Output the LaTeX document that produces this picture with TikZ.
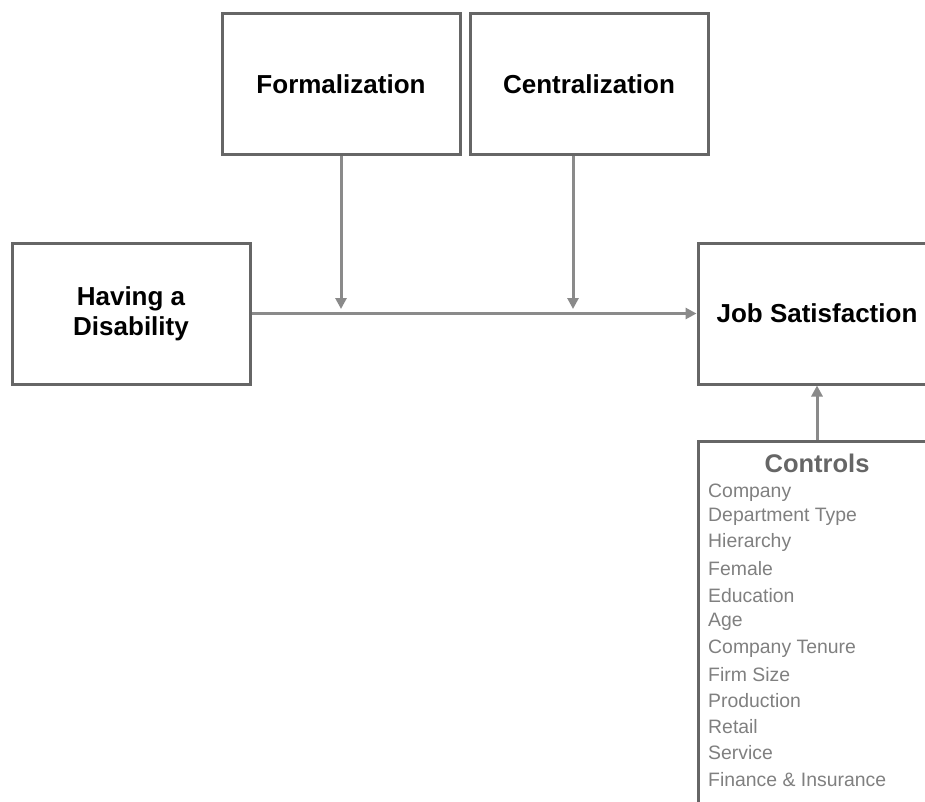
\documentclass[tikz,border=0pt]{standalone}
\usepackage{fontspec}
\setmainfont{Liberation Sans}
\usetikzlibrary{arrows.meta}
\definecolor{boxgray}{HTML}{666666}
\definecolor{arrgray}{HTML}{8A8A8A}
\definecolor{txtgray}{HTML}{808080}
\definecolor{titgray}{HTML}{666666}
\tikzset{
  box/.style={draw=boxgray, line width=3pt, fill=white, minimum width=238pt, minimum height=141pt, inner sep=0pt, align=center, font=\fontsize{26}{30}\selectfont\bfseries},
  arr/.style={draw=arrgray, line width=3pt, -{Triangle[length=11pt,width=11pt]}},
  ctl/.style={anchor=west, inner sep=0pt, text=txtgray, font=\fontsize{19.4}{22}\selectfont},
}
\begin{document}
\begin{tikzpicture}[x=1pt,y=-1pt]
\clip (0,0) rectangle (925,802);
\fill[white] (0,0) rectangle (925,802);
\node[box] (form) at (341,84.5) {Formalization};
\node[box] (cent) at (589,84.5) {Centralization};
\node[box] (dis) at (131,313.5) {Having a\\Disability};
\node[box] (job) at (817,313.5) {Job Satisfaction};
\node[draw=boxgray, line width=3pt, minimum width=238pt, minimum height=400pt, inner sep=0pt] (ctrl) at (817,641) {};
\node[inner sep=0pt, text=titgray, font=\fontsize{25.5}{28}\selectfont\bfseries] (ctitle) at (817,463) {Controls};
\node[ctl] (c1) at (708,493) {Company};
\node[ctl] (c2) at (708,517) {Department Type};
\node[ctl] (c3) at (708,542) {Hierarchy};
\node[ctl] (c4) at (708,569) {Female};
\node[ctl] (c5) at (708,596) {Education};
\node[ctl] (c6) at (708,622) {Age};
\node[ctl] (c7) at (708,649) {Company Tenure};
\node[ctl] (c8) at (708,675) {Firm Size};
\node[ctl] (c9) at (708,701) {Production};
\node[ctl] (c10) at (708,727) {Retail};
\node[ctl] (c11) at (708,753) {Service};
\node[ctl] (c12) at (708,780) {Finance \& Insurance};
\coordinate (m1) at (341,309);
\coordinate (m2) at (573,309);
\draw[arr] (dis.east) -- (job.west);
\draw[arr] (form.south) -- (m1);
\draw[arr] (cent.south -| m2) -- (m2);
\draw[arr] (ctrl.north) -- (job.south);
\end{tikzpicture}
\end{document}
